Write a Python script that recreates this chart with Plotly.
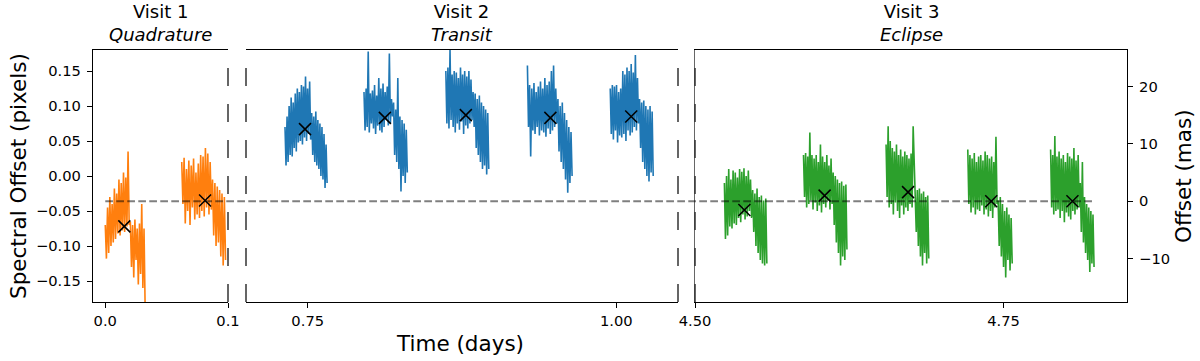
import numpy as np
import plotly.graph_objects as go

visit_labels = ["Visit 1", "Visit 2", "Visit 3"]
visit_targets = ["Quadrature", "Transit", "Eclipse"]
visit_colors = ["#ff7f0e", "#1f77b4", "#2ca02c"]
visit_xlims = [[-0.01, 0.10], [0.70, 1.05], [4.50, 4.85]]
visit_xticks = [[0.0, 0.1], [0.75, 1.00], [4.50, 4.75]]
visit_xtickfmt = [".1f", ".2f", ".2f"]

# orbit start / end times (days)
v1_orbit_t = [[0.000, 0.0325], [0.0623, 0.0980]]
v2_orbit_t = [[0.7316, 0.7657], [0.7956, 0.8307], [0.8619, 0.8967],
              [0.9280, 0.9642], [0.9951, 1.0299]]
v3_orbit_t = [[4.5238, 4.5582], [4.5879, 4.6231], [4.6548, 4.6894],
              [4.7210, 4.7570], [4.7881, 4.8233]]

# spectral offsets (pixels), one list per orbit
v1_offsets = [
    [-0.070, -0.118, -0.045, -0.110, -0.030, -0.100, -0.040, -0.095, -0.018, -0.090,
     -0.025, -0.082, -0.005, -0.085, -0.010, -0.078, 0.005, -0.080, -0.002, -0.072,
     0.035, -0.070,
     -0.065, -0.130, -0.070, -0.145, -0.062, -0.120, -0.075, -0.155, -0.068, -0.140,
     -0.040, -0.160, -0.075, -0.190],
    [0.020, -0.040, 0.026, -0.068, 0.010, -0.050, 0.022, -0.070, 0.015, -0.045,
     0.025, -0.062, 0.005, -0.055, 0.018, -0.060, 0.030, -0.050, 0.028, -0.058,
     0.040, -0.045, 0.032, -0.055, 0.020, -0.048,
     -0.005, -0.085, -0.010, -0.100, -0.015, -0.095, -0.020, -0.115, -0.025, -0.128,
     -0.030, -0.120],
]
v2_offsets = [
    [0.070, 0.015, 0.085, 0.020, 0.100, 0.030, 0.112, 0.028, 0.105, 0.040,
     0.118, 0.035, 0.125, 0.048, 0.120, 0.050, 0.130, 0.045, 0.128, 0.055,
     0.142, 0.050, 0.125, 0.060, 0.135, 0.052,
     0.090, 0.030, 0.085, 0.020, 0.092, 0.015, 0.080, 0.010, 0.075, 0.000,
     0.070, -0.005, 0.060, -0.017, 0.045, -0.010],
    [0.120, 0.065, 0.125, 0.070, 0.178, 0.062, 0.118, 0.075, 0.122, 0.068,
     0.130, 0.060, 0.115, 0.072, 0.140, 0.065, 0.125, 0.062, 0.132, 0.070,
     0.120, 0.080, 0.128, 0.072, 0.175, 0.075, 0.110, 0.085,
     0.105, 0.030, 0.095, 0.020, 0.140, 0.010, 0.085, -0.022, 0.080, 0.000,
     0.075, -0.010, 0.066, 0.005],
    [0.150, 0.075, 0.155, 0.068, 0.180, 0.080, 0.145, 0.070, 0.150, 0.062,
     0.148, 0.075, 0.140, 0.066, 0.155, 0.078, 0.145, 0.060, 0.150, 0.072,
     0.142, 0.068, 0.150, 0.075, 0.138, 0.080, 0.120, 0.070,
     0.118, 0.040, 0.110, 0.030, 0.115, 0.020, 0.105, 0.010, 0.100, 0.015,
     0.095, 0.002, 0.090, 0.010],
    [0.158, 0.070, 0.130, 0.028, 0.125, 0.065, 0.133, 0.060, 0.120, 0.070,
     0.128, 0.058, 0.135, 0.065, 0.125, 0.062, 0.140, 0.056, 0.130, 0.068,
     0.135, 0.060, 0.150, 0.065, 0.158, 0.070, 0.125, 0.075,
     0.110, 0.035, 0.100, 0.020, 0.105, 0.010, 0.090, -0.005, 0.080, -0.024,
     0.070, -0.010, 0.063, 0.000],
    [0.125, 0.060, 0.130, 0.052, 0.128, 0.065, 0.130, 0.048, 0.120, 0.058,
     0.125, 0.055, 0.150, 0.060, 0.145, 0.050, 0.155, 0.065, 0.150, 0.058,
     0.160, 0.062, 0.148, 0.070, 0.173, 0.065, 0.140, 0.075,
     0.110, 0.040, 0.105, 0.020, 0.108, 0.010, 0.100, 0.000, 0.095, -0.008,
     0.100, 0.005, 0.092, 0.000],
]
v3_offsets = [
    [-0.010, -0.090, 0.000, -0.085, 0.010, -0.072, -0.005, -0.075, 0.008, -0.068,
     0.005, -0.070, -0.002, -0.060, 0.010, -0.066, 0.006, -0.055, 0.011, -0.062,
     0.000, -0.058, 0.008, -0.050, -0.005, -0.060,
     -0.020, -0.080, -0.025, -0.100, -0.018, -0.110, -0.030, -0.120, -0.028, -0.125,
     -0.035, -0.128, -0.032, -0.125],
    [0.030, -0.030, 0.033, -0.045, 0.028, -0.040, 0.062, -0.035, 0.030, -0.048,
     0.025, -0.038, 0.030, -0.050, 0.020, -0.042, 0.045, -0.052, 0.028, -0.040,
     0.020, -0.045, 0.030, -0.035, 0.015, -0.048, 0.025, -0.040,
     0.005, -0.070, 0.000, -0.095, -0.005, -0.110, -0.010, -0.128, -0.008, -0.115,
     -0.014, -0.120, -0.012, -0.105],
    [0.045, -0.030, 0.071, -0.045, 0.050, -0.040, 0.040, -0.055, 0.035, -0.038,
     0.045, -0.050, 0.030, -0.060, 0.038, -0.042, 0.028, -0.055, 0.035, -0.045,
     0.030, -0.050, 0.025, -0.040, 0.032, -0.045, 0.071, 0.030,
     -0.015, -0.080, -0.020, -0.100, -0.018, -0.115, -0.025, -0.128, -0.022, -0.110,
     -0.030, -0.125, -0.028, -0.118],
    [0.038, -0.040, 0.030, -0.052, 0.025, -0.045, 0.033, -0.055, 0.020, -0.048,
     0.028, -0.050, 0.030, -0.042, 0.022, -0.055, 0.035, -0.048, 0.030, -0.058,
     0.025, -0.050, 0.028, -0.060, 0.020, -0.045, 0.056, -0.040,
     -0.035, -0.100, -0.030, -0.115, -0.040, -0.130, -0.050, -0.145, -0.045, -0.120,
     -0.055, -0.135, -0.060, -0.125],
    [0.038, -0.045, 0.030, -0.055, 0.057, -0.050, 0.028, -0.048, 0.035, -0.060,
     0.025, -0.050, 0.030, -0.066, 0.020, -0.052, 0.033, -0.058, 0.028, -0.062,
     0.025, -0.050, 0.040, -0.055, 0.022, -0.048, 0.030, -0.045,
     -0.010, -0.080, 0.020, -0.095, -0.030, -0.110, -0.040, -0.120, -0.045, -0.137,
     -0.050, -0.125, -0.055, -0.130],
]

# orbit medians
v1_med_t = [0.0155, 0.0813]
v1_med = [-0.072, -0.035]
v2_med_t = [0.7478, 0.8125, 0.8781, 0.9466, 1.0121]
v2_med = [0.067, 0.083, 0.087, 0.083, 0.085]
v3_med_t = [4.5400, 4.6050, 4.6726, 4.7400, 4.8058]
v3_med = [-0.0486, -0.028, -0.023, -0.036, -0.036]

baseline = -0.036
baseline_t = [0.0, 4.8225]
mas_per_pixel = 122.2
ylim = [-0.18, 0.18]

orbit_t = [v1_orbit_t, v2_orbit_t, v3_orbit_t]
offsets = [v1_offsets, v2_offsets, v3_offsets]
med_t = [v1_med_t, v2_med_t, v3_med_t]
med = [v1_med, v2_med, v3_med]

W, H = 1200, 361
panel_px = [[93, 228], [246, 678], [695, 1127]]
ydom = [(H - 302) / H, (H - 50) / H]
xdoms = [[a / W, b / W] for a, b in panel_px]

FONT = "DejaVu Sans"
fig = go.Figure()

for i in range(3):
    sfx = "" if i == 0 else str(i + 1)
    for (t0, t1), vals in zip(orbit_t[i], offsets[i]):
        fig.add_trace(go.Scatter(
            x=np.linspace(t0, t1, len(vals)), y=vals, mode="lines",
            line=dict(color=visit_colors[i], width=1.6),
            xaxis="x" + sfx, yaxis="y" + sfx, hoverinfo="skip"))
    fig.add_trace(go.Scatter(
        x=med_t[i], y=med[i], mode="markers",
        marker=dict(symbol="x-thin-open", size=12, color="black",
                    line=dict(color="black", width=1.5)),
        xaxis="x" + sfx, yaxis="y" + sfx))

layout = dict(
    width=W, height=H, margin=dict(l=0, r=0, t=0, b=0, autoexpand=False),
    paper_bgcolor="white", plot_bgcolor="white", showlegend=False,
    font=dict(family=FONT, color="black", size=14.7),
)
for i in range(3):
    sfx = "" if i == 0 else str(i + 1)
    layout["xaxis" + sfx] = dict(
        domain=xdoms[i], range=visit_xlims[i], anchor="y" + sfx, automargin=False,
        tickvals=visit_xticks[i], tickformat=visit_xtickfmt[i],
        ticks="outside", ticklen=5, tickwidth=1.2, tickcolor="black",
        showline=True, linecolor="black", linewidth=1.3, mirror=True,
        showgrid=False, zeroline=False, tickfont=dict(size=14.7))
    layout["yaxis" + sfx] = dict(
        domain=ydom, range=ylim, anchor="x" + sfx, automargin=False,
        showgrid=False, zeroline=False, showticklabels=False, ticks="",
        showline=False)

layout["yaxis"].update(
    showticklabels=True, ticks="outside", ticklen=5, tickwidth=1.2,
    tickcolor="black", showline=True, linecolor="black", linewidth=1.3,
    tickvals=[-0.15, -0.10, -0.05, 0.0, 0.05, 0.10, 0.15], tickformat=".2f",
    ticklabelstandoff=3)
layout["yaxis3"].update(showline=True, linecolor="#666", linewidth=1)
layout["yaxis4"] = dict(
    domain=ydom, overlaying="y3", anchor="x3", side="right", automargin=False,
    range=[(ylim[0] - baseline) * mas_per_pixel, (ylim[1] - baseline) * mas_per_pixel],
    tickvals=[-10, 0, 10, 20], ticks="outside", ticklen=5, tickwidth=1.2,
    tickcolor="black", showline=True, linecolor="black", linewidth=1.3,
    showgrid=False, zeroline=False, ticklabelstandoff=3)
fig.update_layout(**layout)
# keep an (empty) trace on the mas axis so it renders
fig.add_trace(go.Scatter(x=[], y=[], xaxis="x3", yaxis="y4"))

# broken-axis dashed spines
spine = dict(type="line", y0=0, y1=1, line=dict(color="#333", width=1.5, dash="18px,18px"),
             layer="above")
fig.add_shape(xref="x domain", yref="y domain", x0=1, x1=1, **spine)
fig.add_shape(xref="x2 domain", yref="y2 domain", x0=0, x1=0, **spine)
fig.add_shape(xref="x2 domain", yref="y2 domain", x0=1, x1=1, **spine)
fig.add_shape(xref="x3 domain", yref="y3 domain", x0=0, x1=0, **spine)


def to_paper(t, i):
    r0, r1 = visit_xlims[i]
    d0, d1 = xdoms[i]
    return d0 + (t - r0) / (r1 - r0) * (d1 - d0)


fig.add_shape(type="line", xref="paper", yref="y",
              x0=to_paper(baseline_t[0], 0), x1=to_paper(baseline_t[1], 2),
              y0=baseline, y1=baseline, layer="above",
              line=dict(color="rgba(0,0,0,0.5)", width=2, dash="7.7px,3.3px"))

# panel titles
for i in range(3):
    sfx = "" if i == 0 else str(i + 1)
    fig.add_annotation(xref=f"x{sfx} domain", yref=f"y{sfx} domain", x=0.5, y=1,
                       xanchor="center", yanchor="bottom", yshift=3, showarrow=False,
                       text=f"{visit_labels[i]}<br><i>{visit_targets[i]}</i>",
                       font=dict(size=18, family=FONT))

# axis labels
fig.add_annotation(xref="paper", yref="paper", x=18 / W, y=(H - 176) / H,
                   xanchor="center", yanchor="middle",
                   text="Spectral Offset (pixels)", textangle=-90, showarrow=False,
                   font=dict(size=21.5, family=FONT))
fig.add_annotation(xref="paper", yref="paper", x=460 / W, y=(H - 343) / H,
                   xanchor="center", yanchor="middle",
                   text="Time (days)", showarrow=False, font=dict(size=21.5, family=FONT))
fig.add_annotation(xref="paper", yref="paper", x=1183 / W, y=(H - 176) / H,
                   xanchor="center", yanchor="middle",
                   text="Offset (mas)", textangle=-90, showarrow=False,
                   font=dict(size=21.5, family=FONT))

fig.write_html("out.html", config={"displayModeBar": False},
               post_script="document.body.style.margin='0';")
